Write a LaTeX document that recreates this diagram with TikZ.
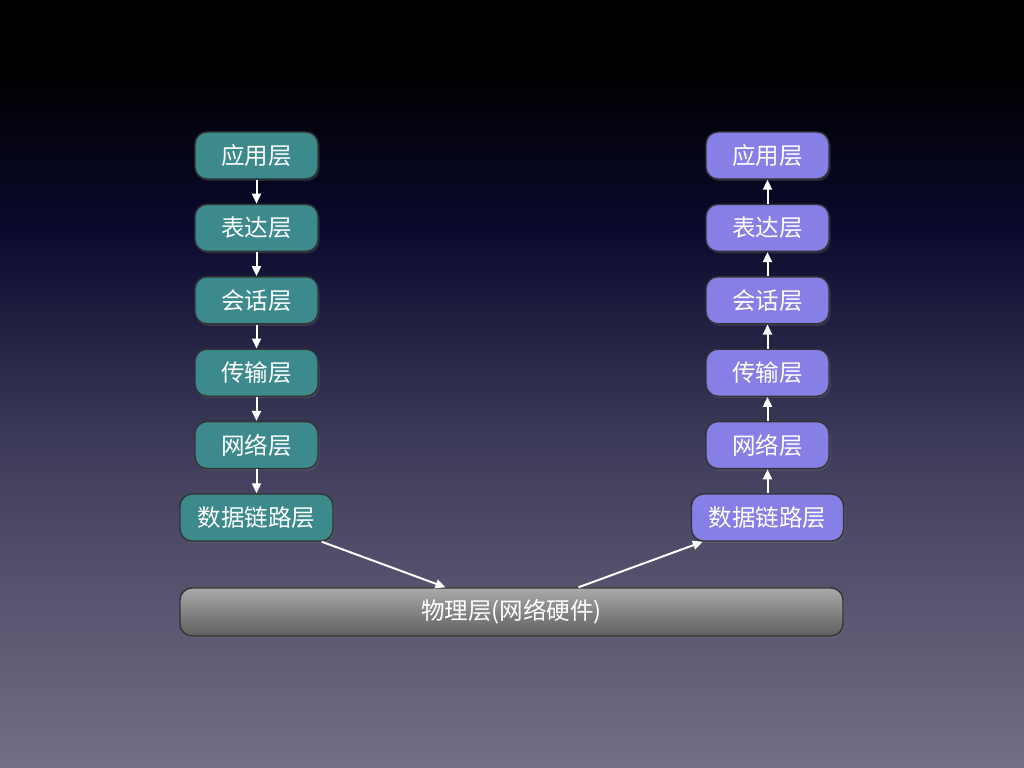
\documentclass[tikz,border=0pt]{standalone}
\usepackage{fontspec}
\newfontfamily\cjk{Noto Sans CJK SC}
\usetikzlibrary{positioning,arrows.meta,shadows}

\definecolor{tealbox}{RGB}{61,138,140}
\definecolor{violetbox}{RGB}{134,128,230}
\definecolor{bgbottom}{RGB}{114,112,134}
\definecolor{bgmid}{RGB}{62,60,90}
\definecolor{bgnavy}{RGB}{10,10,46}
\definecolor{bartop}{RGB}{168,170,170}
\definecolor{barbottom}{RGB}{94,96,96}

\tikzset{
  layer/.style={draw=black!80, rounded corners=0.12cm, minimum width=1.23cm,
    minimum height=0.47cm, inner sep=0pt, text=white,
    font=\cjk\fontsize{6.7pt}{8pt}\selectfont,
    drop shadow={shadow xshift=0.015cm, shadow yshift=-0.02cm, opacity=0.25}},
  sender/.style={layer, fill=tealbox},
  receiver/.style={layer, fill=violetbox},
  flow/.style={draw=white, line width=0.02cm, -{Triangle[length=0.1cm, width=0.09cm]}},
}

\begin{document}
\begin{tikzpicture}[node distance=0.24cm]
  % background
  \fill[black] (0,6.98) rectangle (10.24,7.68);
  \shade[top color=black, bottom color=bgnavy] (0,5.38) rectangle (10.24,6.99);
  \shade[top color=bgnavy, bottom color=bgmid] (0,3.2) rectangle (10.24,5.39);
  \shade[top color=bgmid, bottom color=bgbottom] (0,0) rectangle (10.24,3.21);
  \useasboundingbox (0,0) rectangle (10.24,7.68);

  % sending side
  \node (app1) [sender] at (2.565,6.125) {应用层};
  \node (pres1) [sender, below = of app1] {表达层};
  \node (sess1) [sender, below = of pres1] {会话层};
  \node (trans1) [sender, below = of sess1] {传输层};
  \node (net1) [sender, below = of trans1] {网络层};
  \node (link1) [sender, below = of net1, minimum width=1.53cm] {数据链路层};

  % receiving side
  \node (app2) [receiver] at (7.675,6.125) {应用层};
  \node (pres2) [receiver, below = of app2] {表达层};
  \node (sess2) [receiver, below = of pres2] {会话层};
  \node (trans2) [receiver, below = of sess2] {传输层};
  \node (net2) [receiver, below = of trans2] {网络层};
  \node (link2) [receiver, below = of net2, minimum width=1.52cm] {数据链路层};

  % hardware
  \node (phys) [layer, minimum width=6.63cm, minimum height=0.48cm,
    top color=bartop, bottom color=barbottom] at (5.115,1.56) {物理层(网络硬件)};

  \draw[flow] (app1) -- (pres1);
  \draw[flow] (pres1) -- (sess1);
  \draw[flow] (sess1) -- (trans1);
  \draw[flow] (trans1) -- (net1);
  \draw[flow] (net1) -- (link1);

  \draw[flow] (link2) -- (net2);
  \draw[flow] (net2) -- (trans2);
  \draw[flow] (trans2) -- (sess2);
  \draw[flow] (sess2) -- (pres2);
  \draw[flow] (pres2) -- (app2);

  \draw[flow] ([xshift=-0.12cm]link1.south east) -- ([xshift=-0.66cm]phys.north);
  \draw[flow] ([xshift=0.67cm]phys.north) -- ([xshift=0.12cm]link2.south west);

\end{tikzpicture}
\end{document}
